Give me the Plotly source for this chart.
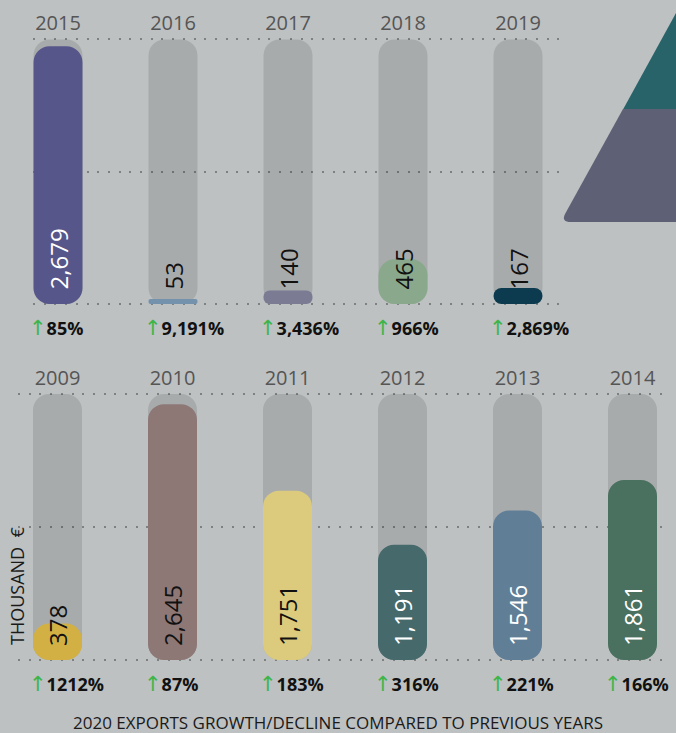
import plotly.graph_objects as go

# ---------------- data ----------------
top_years = ["2015", "2016", "2017", "2018", "2019"]
top_values = [2679, 53, 140, 465, 167]
top_growth = ["85%", "9,191%", "3,436%", "966%", "2,869%"]

bottom_years = ["2009", "2010", "2011", "2012", "2013", "2014"]
bottom_values = [378, 2645, 1751, 1191, 1546, 1861]
bottom_growth = ["1212%", "87%", "183%", "316%", "221%", "166%"]

track_max = 2750
grid_vals = [0, 1375, 2750]

# ---------------- styles ----------------
top_colors = ["#57568a", "#7592ad", "#7b7b93", "#8aa98c", "#0c3a4f"]
top_text_colors = ["#ffffff", "#111111", "#111111", "#111111", "#111111"]
bottom_colors = ["#d3b044", "#8d7876", "#dccb7c", "#46696b", "#607f97", "#4a715f"]
bottom_text_colors = ["#111111", "#111111", "#111111", "#ffffff", "#ffffff", "#ffffff"]

BG = "#bec1c2"
TRACK = "rgba(0,0,0,0.115)"
GRID = "#7e8182"
FONT = "Open Sans"
W, H = 676, 733
BAR_W = 0.426
RADIUS = 16


def px_x(p):
    return p / W


def px_y(p):
    return 1 - p / H


def pill(n, vals, color, xa, ya):
    # a bar with an explicit base gets all four corners rounded
    return go.Bar(x=list(range(n)), y=vals, base=[0] * n, width=BAR_W,
                  xaxis=xa, yaxis=ya, hoverinfo="skip",
                  marker=dict(color=color, cornerradius=RADIUS, line=dict(width=0)))


fig = go.Figure()
for years, vals, cols, xa, ya in [
    (top_years, top_values, top_colors, "x", "y"),
    (bottom_years, bottom_values, bottom_colors, "x2", "y2"),
]:
    n = len(years)
    fig.add_trace(pill(n, [track_max] * n, TRACK, xa, ya))
    fig.add_trace(pill(n, vals, cols, xa, ya))

annotations = []
for years, vals, tcols, growth, xr, yr in [
    (top_years, top_values, top_text_colors, top_growth, "x", "y"),
    (bottom_years, bottom_values, bottom_text_colors, bottom_growth, "x2", "y2"),
]:
    for i, (v, tc, g) in enumerate(zip(vals, tcols, growth)):
        annotations.append(dict(
            x=i, y=0, xref=xr, yref=yr, text=f"{v:,}", textangle=-90,
            showarrow=False, yanchor="bottom", xanchor="center", yshift=12,
            font=dict(size=24, color=tc, family=FONT, weight=500)))
        annotations.append(dict(
            x=i, y=0, xref=xr, yref=yr,
            text=(f"<span style='color:#3db54a;font-family:DejaVu Sans;font-size:21px'>↑</span>"
                  f"<b>{g}</b>"),
            showarrow=False, yanchor="middle", xanchor="left", xshift=-31, yshift=-24,
            font=dict(size=18, color="#111111", family=FONT)))

annotations.append(dict(
    x=0.5, y=px_y(722), xref="paper", yref="paper",
    text="2020 EXPORTS GROWTH/DECLINE COMPARED TO PREVIOUS YEARS",
    showarrow=False, xanchor="center", yanchor="middle",
    font=dict(size=17, color="#1a1a1a", family=FONT, weight=500)))
annotations.append(dict(
    x=px_x(17), y=px_y(586), xref="paper", yref="paper",
    text="THOUSAND  €", textangle=-90, showarrow=False,
    xanchor="center", yanchor="middle",
    font=dict(size=18, color="#1a1a1a", family=FONT, weight=500)))


def tri_path(points):
    return "M " + " L ".join(f"{px_x(a):.5f},{px_y(b):.5f}" for a, b in points) + " Z"


shapes = [
    dict(type="path", xref="paper", yref="paper", layer="below",
         path=tri_path([(623, 109.5), (676, 13), (676, 109.5)]),
         fillcolor="#28636a", line=dict(width=0)),
    dict(type="path", xref="paper", yref="paper", layer="below",
         path=(f"M {px_x(623):.5f},{px_y(109):.5f} L {px_x(676):.5f},{px_y(109):.5f} "
               f"L {px_x(676):.5f},{px_y(222):.5f} L {px_x(571):.5f},{px_y(222):.5f} "
               f"Q {px_x(561):.5f},{px_y(222):.5f} {px_x(565):.5f},{px_y(214):.5f} Z"),
         fillcolor="#5e6175", line=dict(width=0)),
]

# axis geometry (pixel positions of the frame)
top_zero, top_max = 304, 39.5
bot_zero, bot_max = 660, 394
pad = 15


def ydomain(zero_px, max_px):
    per = (zero_px - max_px) / track_max
    lo_px = zero_px + pad * per
    hi_px = max_px - pad * per
    return [px_y(lo_px), px_y(hi_px)]


xcommon = dict(side="top", showgrid=False, zeroline=False,
               ticks="", showline=False, fixedrange=True, ticklabelstandoff=3,
               tickfont=dict(size=20, color="#555555", family=FONT, weight=500))
ycommon = dict(range=[-pad, track_max + pad], tickvals=grid_vals, showticklabels=False,
               showgrid=True, gridcolor=GRID, gridwidth=2, griddash="2px,8.7px",
               zeroline=False, showline=False, fixedrange=True)

fig.update_layout(
    width=W, height=H, margin=dict(l=0, r=0, t=0, b=0),
    paper_bgcolor=BG, plot_bgcolor=BG, barmode="overlay", showlegend=False,
    font=dict(family=FONT),
    xaxis=dict(domain=[px_x(33), px_x(560)], range=[(33 - 58) / 115, (560 - 58) / 115],
               tickvals=list(range(len(top_years))), ticktext=top_years,
               anchor="y", **xcommon),
    yaxis=dict(domain=ydomain(top_zero, top_max), anchor="x", **ycommon),
    xaxis2=dict(domain=[px_x(18), px_x(665)], range=[(18 - 57.5) / 115, (665 - 57.5) / 115],
                tickvals=list(range(len(bottom_years))), ticktext=bottom_years,
                anchor="y2", **xcommon),
    yaxis2=dict(domain=ydomain(bot_zero, bot_max), anchor="x2", **ycommon),
    annotations=annotations,
    shapes=shapes,
)

fig.write_html(
    "out.html",
    config={"displayModeBar": False},
    post_script="document.body.style.margin='0px';document.body.style.overflow='hidden';",
)
